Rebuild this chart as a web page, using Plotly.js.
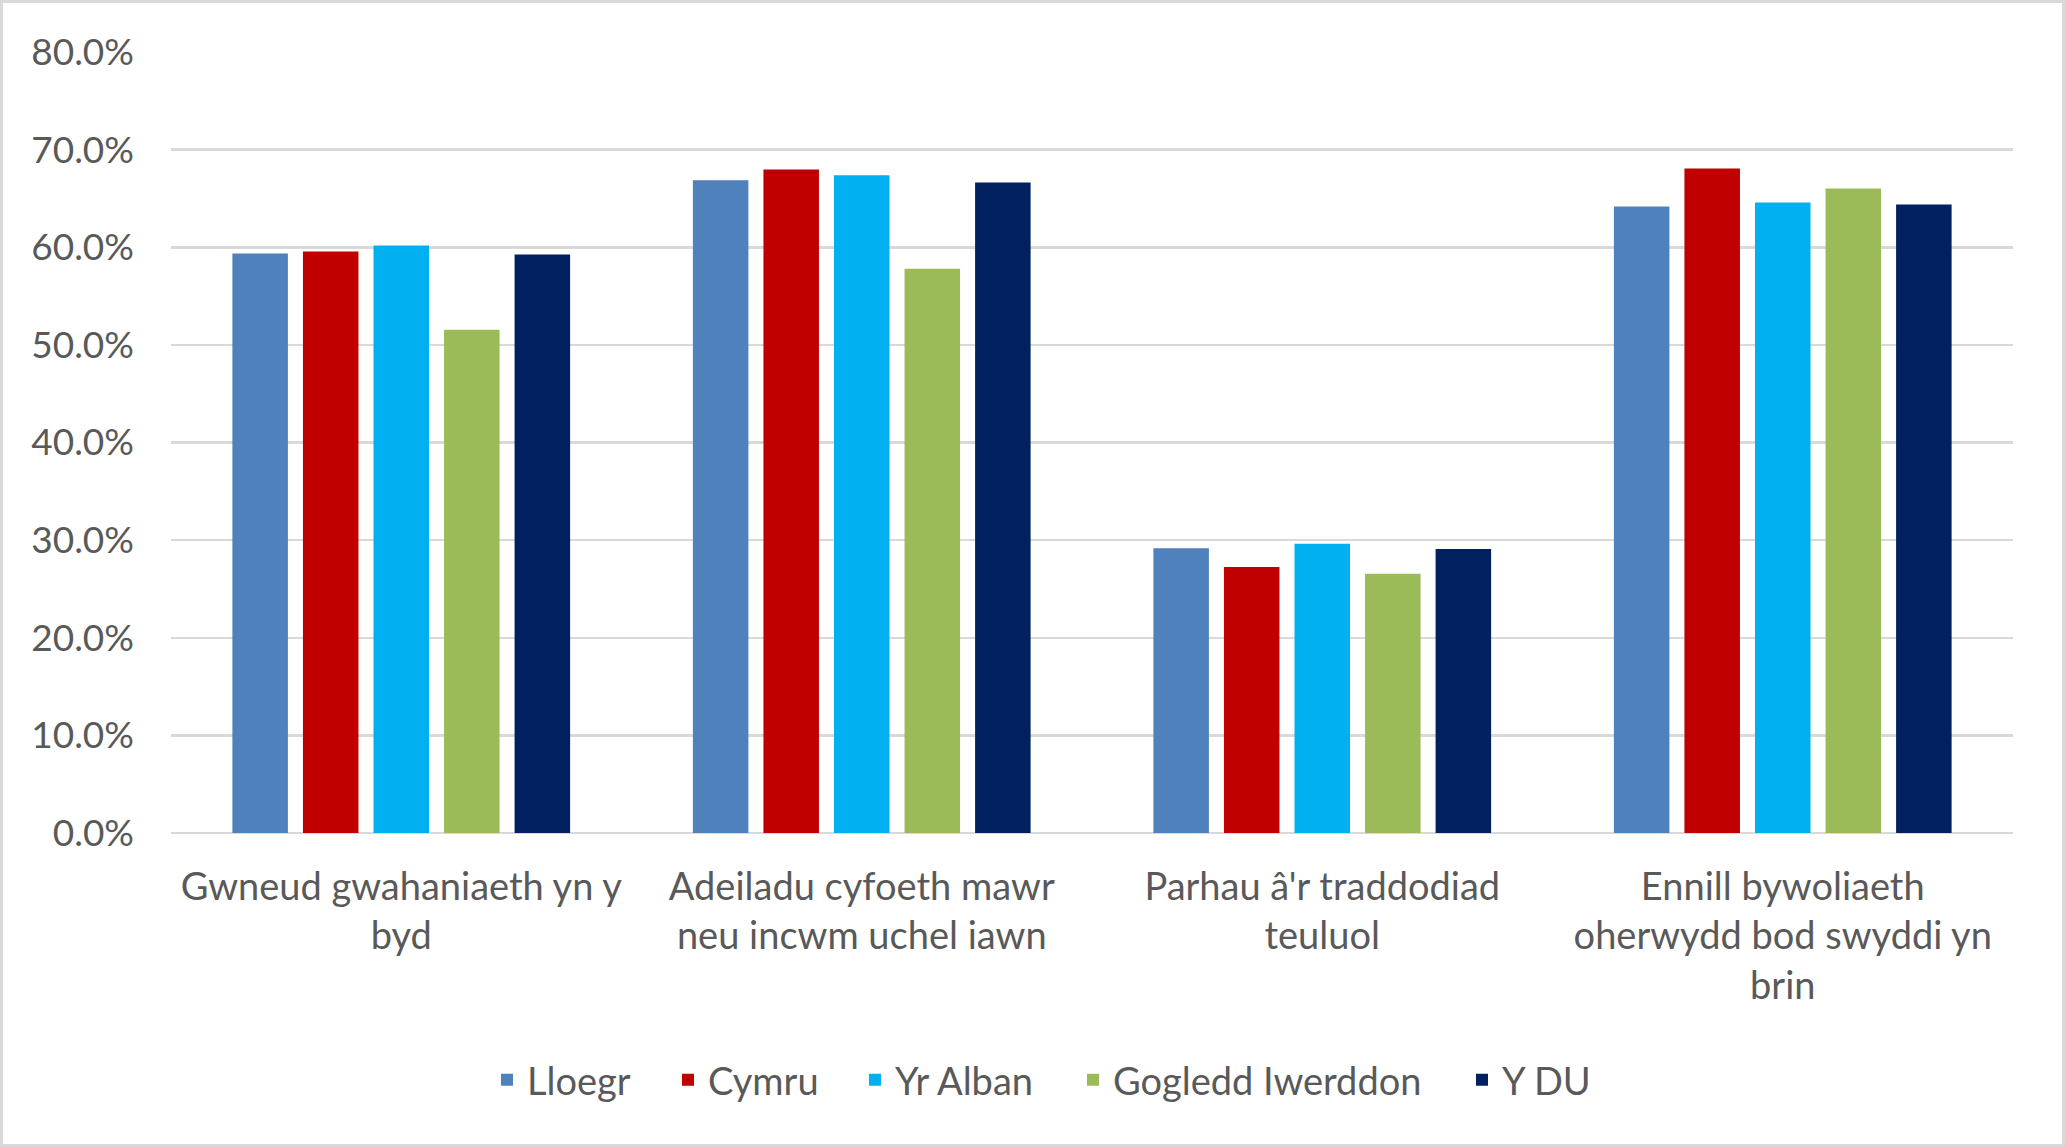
<!DOCTYPE html>
<html>
<head>
<meta charset="utf-8">
<script src="https://cdn.plot.ly/plotly-3.0.1.min.js"></script>
<style>
  html, body { margin:0; padding:0; background:#ffffff; }
  #wrap { position:relative; width:2065px; height:1147px; }
  #chart { position:absolute; left:0; top:0; width:2065px; height:1147px; }
  #frame { position:absolute; left:0; top:0; width:2065px; height:1147px; box-sizing:border-box; border:3px solid #d9d9d9; pointer-events:none; }
</style>
</head>
<body>
<div id="wrap"><div id="chart"></div><div id="frame"></div></div>
<script>
const categories = [
  "Gwneud gwahaniaeth yn y<br>byd",
  "Adeiladu cyfoeth mawr<br>neu incwm uchel iawn",
  "Parhau â'r traddodiad<br>teuluol",
  "Ennill bywoliaeth<br>oherwydd bod swyddi yn<br>brin"
];
const seriesNames = ["Lloegr", "Cymru", "Yr Alban", "Gogledd Iwerddon", "Y DU"];
const lloegr   = [0.5935, 0.6687, 0.2918, 0.6418];
const cymru    = [0.5956, 0.6796, 0.2724, 0.6806];
const yrAlban  = [0.6017, 0.6738, 0.2962, 0.6459];
const gogledd  = [0.5155, 0.5779, 0.2656, 0.6602];
const yDU      = [0.5925, 0.6663, 0.2908, 0.6439];
const yTickVals = [0, 0.1, 0.2, 0.3, 0.4, 0.5, 0.6, 0.7, 0.8];

const seriesValues = [lloegr, cymru, yrAlban, gogledd, yDU];
const colors = ["#4F81BD", "#C00000", "#00B0F0", "#9BBB59", "#002060"];
// left pixel of each legend entry (container coords)
const legendLeft = [487, 668, 855, 1073, 1462];

const FONT = "Lato, 'Open Sans', sans-serif";
const TXT = "#595959";
const W = 2065, H = 1147;

const legendIds = ['legend', 'legend2', 'legend3', 'legend4', 'legend5'];

const traces = seriesNames.map((name, i) => ({
  type: 'bar',
  name: name,
  x: categories,
  y: seriesValues[i],
  marker: { color: colors[i] },
  legend: legendIds[i],
  hoverinfo: 'skip'
}));

const layout = {
  width: W,
  height: H,
  paper_bgcolor: '#ffffff',
  plot_bgcolor: '#ffffff',
  margin: { l: 171, r: 52, t: 52, b: 314 },
  barmode: 'group',
  bargap: 0.234,
  bargroupgap: 0.213,
  showlegend: true,
  font: { family: FONT, size: 36, color: TXT },
  xaxis: {
    type: 'category',
    showgrid: false,
    showline: false,
    zeroline: false,
    ticks: '',
    ticklabelstandoff: 28,
    tickfont: { family: FONT, size: 38, color: TXT }
  },
  yaxis: {
    range: [0, 0.8],
    tickvals: yTickVals,
    tickformat: '.1%',
    showgrid: true,
    gridcolor: '#d9d9d9',
    gridwidth: 2.5,
    zeroline: true,
    zerolinecolor: '#d9d9d9',
    zerolinewidth: 2.5,
    showline: false,
    ticks: '',
    ticklabelstandoff: 36,
    tickfont: { family: FONT, size: 37, color: TXT }
  }
};

legendIds.forEach((id, i) => {
  layout[id] = {
    orientation: 'h',
    xref: 'container',
    yref: 'container',
    x: legendLeft[i] / W,
    xanchor: 'left',
    y: 1 - 1080 / H,
    yanchor: 'middle',
    font: { family: FONT, size: 38, color: TXT },
    bgcolor: 'rgba(0,0,0,0)',
    itemclick: false,
    itemdoubleclick: false
  };
});

Plotly.newPlot('chart', traces, layout, { staticPlot: true, displayModeBar: false });
</script>
</body>
</html>
